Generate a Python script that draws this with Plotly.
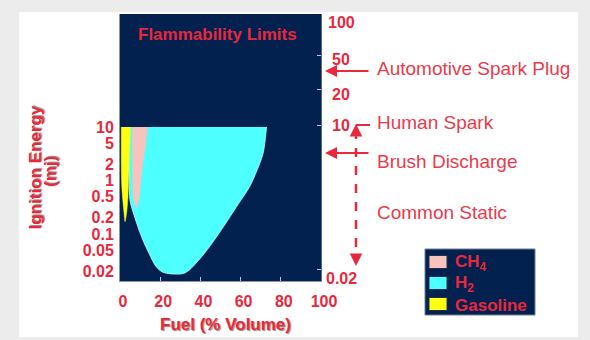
import plotly.graph_objects as go

# ---------------- data ----------------
# Flammability envelopes: fuel (% volume) vs minimum ignition energy (mJ)
h2_x = [4.0, 4.2, 4.6, 5.0, 7.0, 9.5, 12.0, 14.5, 17.8, 21.0, 24.5, 28.0, 31.5, 34.5, 38.0, 42.0, 48.0, 53.7, 59.0, 64.5, 68.0, 71.2, 72.9]
h2_y = [10, 3, 1, 0.42, 0.225, 0.118, 0.068, 0.043, 0.025, 0.0195, 0.0181, 0.0178, 0.0182, 0.0212, 0.029, 0.0435, 0.088, 0.183, 0.37, 0.766, 1.5, 3.22, 10]

ch4_x = [6.2, 6.2, 6.3, 6.7, 7.5, 8.3, 9.7, 10.3, 11.2, 12.5, 13.7]
ch4_y = [10, 2, 0.95, 0.47, 0.35, 0.31, 0.53, 0.95, 1.95, 4.05, 10]

gas_x = [0.65, 0.65, 0.8, 1.2, 2.0, 2.5, 3.3, 4.0, 4.5, 4.85, 5.3]
gas_y = [10, 2, 0.95, 0.52, 0.25, 0.17, 0.25, 0.52, 1.9, 4.05, 10]

series_names = ["CH<sub>4</sub>", "H<sub>2</sub>", "Gasoline"]
series_colors = ["#f6c4bc", "#4dffff", "#ffff14"]

x_ticks = [0, 20, 40, 60, 80, 100]
y_ticks = [10, 5, 2, 1, 0.5, 0.2, 0.1, 0.05, 0.02]
y_ticktext = ["10", "5", "2", "1", "0.5", "0.2", "0.1", "0.05", "0.02"]

right_labels = ["100", "50", "20", "10", "0.02"]
right_label_py = [23, 60, 95, 125, 278]          # pixel rows of the right-hand labels
right_tick_log = [2.327, 1.692, 1.019, -1.673]    # right spine tick marks (log10 of left scale)

source_labels = ["Automotive Spark Plug", "Human Spark", "Brush Discharge", "Common Static"]
source_label_py = [69, 122, 161, 212]

# ---------------- geometry / style ----------------
W, H = 590, 340
L, R, T, B = 120, 321, 14, 281
RED = "#e8283c"
RED2 = "#ea3a4c"
NAVY = "#02214e"
FONT = "Liberation Sans"


def px(xp):
    return (xp - L) / (R - L)


def py(yp):
    return (B - yp) / (B - T)


fig = go.Figure()

# filled envelopes (H2 at back, then CH4, then gasoline)
fig.add_trace(go.Scatter(x=h2_x, y=h2_y, fill="toself", fillcolor=series_colors[1], name="H2",
                         mode="lines", line=dict(color="#bff", width=0.8, shape="spline", smoothing=0.8),
                         showlegend=False, hoverinfo="skip"))
fig.add_trace(go.Scatter(x=ch4_x, y=ch4_y, fill="toself", fillcolor=series_colors[0], name="CH4",
                         mode="lines", line=dict(color=series_colors[0], width=0.5, shape="spline", smoothing=0.8),
                         showlegend=False, hoverinfo="skip"))
fig.add_trace(go.Scatter(x=gas_x, y=gas_y, fill="toself", fillcolor=series_colors[2], name="Gasoline",
                         mode="lines", line=dict(color=series_colors[2], width=0.5, shape="spline", smoothing=0.8),
                         showlegend=False, hoverinfo="skip"))

# helper trace for right axis
fig.add_trace(go.Scatter(x=[None], y=[None], yaxis="y2", showlegend=False, hoverinfo="skip"))

yr = [-1.879, 3.112]

shapes = [
    dict(type="rect", xref="paper", yref="paper", x0=px(19), x1=px(578), y0=py(337), y1=py(12),
         fillcolor="white", line=dict(width=0), layer="below"),
    dict(type="rect", xref="paper", yref="paper", x0=0, x1=1, y0=0, y1=1,
         fillcolor=NAVY, line=dict(width=0), layer="below"),
    # human spark short line
    dict(type="line", xref="paper", yref="paper", x0=px(356), x1=px(370), y0=py(125), y1=py(125),
         line=dict(color=RED, width=2)),
    # dashed vertical range line
    dict(type="line", xref="paper", yref="paper", x0=px(356), x1=px(356), y0=py(130), y1=py(260),
         line=dict(color=RED, width=2.5, dash="dash")),
    # legend box
    dict(type="rect", xref="paper", yref="paper", x0=px(425), x1=px(535), y0=py(315), y1=py(249),
         fillcolor=NAVY, line=dict(color="#6f7c96", width=1)),
]


def note(text, xp, yp, size, bold=True, color=RED, xanchor="center", angle=0, shadow=None):
    f = dict(family=FONT, size=size, color=color, weight="bold" if bold else "normal")
    if shadow:
        f["shadow"] = shadow
    return dict(text=text, xref="paper", yref="paper", x=px(xp), y=py(yp),
                xanchor=xanchor, yanchor="middle", textangle=angle, showarrow=False, font=f)


annotations = []
shadow = "1px 1px 1px rgba(60,20,20,0.55)"
annotations.append(note("Flammability Limits", 217, 35, 17))
annotations.append(note("Fuel (% Volume)", 225, 324, 17, shadow=shadow))
annotations.append(note("Ignition Energy", 34.5, 168, 17, angle=-90, shadow=shadow))
annotations.append(note("(mj)", 50, 172, 17, angle=-90, shadow=shadow))
for lab, yp in zip(right_labels, right_label_py):
    annotations.append(note(lab, 341, yp, 16))
for lab, yp in zip(source_labels, source_label_py):
    annotations.append(note(lab, 375, yp, 19, bold=False, color=RED2, xanchor="left"))

# legend (swatches + labels)
for i, (name, col) in enumerate(zip(series_names, series_colors)):
    cy = 262 + 21 * i
    shapes.append(dict(type="rect", xref="paper", yref="paper", x0=px(429), x1=px(447),
                       y0=py(cy + 6.5), y1=py(cy - 6.5), fillcolor=col, line=dict(color="#22304c", width=1)))
    annotations.append(note(name, 453, cy + 1, 17, xanchor="left"))

# arrows
for head_py in [71, 153]:
    annotations.append(dict(text="", xref="paper", yref="paper", x=px(325), y=py(head_py),
                            ax=45, ay=0, showarrow=True, arrowhead=2, arrowsize=1.2, arrowwidth=2,
                            arrowcolor=RED, standoff=0))
annotations.append(dict(text="", xref="paper", yref="paper", x=px(356), y=py(124),
                        ax=0, ay=9, showarrow=True, arrowhead=2, arrowsize=1, arrowwidth=2.5,
                        arrowcolor=RED, standoff=0))
annotations.append(dict(text="", xref="paper", yref="paper", x=px(356), y=py(266),
                        ax=0, ay=-9, showarrow=True, arrowhead=2, arrowsize=1, arrowwidth=2.5,
                        arrowcolor=RED, standoff=0))

fig.update_layout(
    width=W, height=H,
    margin=dict(l=L, r=W - R, t=T, b=H - B, pad=0, autoexpand=False),
    paper_bgcolor="#ececec",
    plot_bgcolor=NAVY,
    font=dict(family=FONT, color=RED),
    xaxis=dict(range=[0, 100], tickvals=x_ticks, showgrid=False, zeroline=False,
               ticks="inside", ticklen=4, tickcolor="#b8c0d0", tickwidth=1,
               showline=True, linecolor="#8a96aa", linewidth=1,
               tickfont=dict(family=FONT, size=16, color=RED, weight="bold"),
               ticklabelshift=3, ticklabelstandoff=6, automargin=False),
    yaxis=dict(type="log", range=yr, tickvals=y_ticks, ticktext=y_ticktext,
               showgrid=False, zeroline=False, ticks="", showline=True,
               linecolor="#8a96aa", linewidth=1, ticklabelstandoff=2, automargin=False,
               tickfont=dict(family=FONT, size=16, color=RED, weight="bold")),
    yaxis2=dict(type="log", range=yr, overlaying="y", side="right",
                tickvals=[10 ** v for v in right_tick_log], showticklabels=False,
                ticks="inside", ticklen=4, tickcolor="#c0c8d8", showgrid=False, zeroline=False,
                showline=True, linecolor="#5a6a88", linewidth=1, automargin=False),
    shapes=shapes,
    annotations=annotations,
    showlegend=False,
)

fig.write_html("out.html", config={"displayModeBar": False},
               post_script="document.body.style.margin='0';document.body.style.background='#ececec';")
